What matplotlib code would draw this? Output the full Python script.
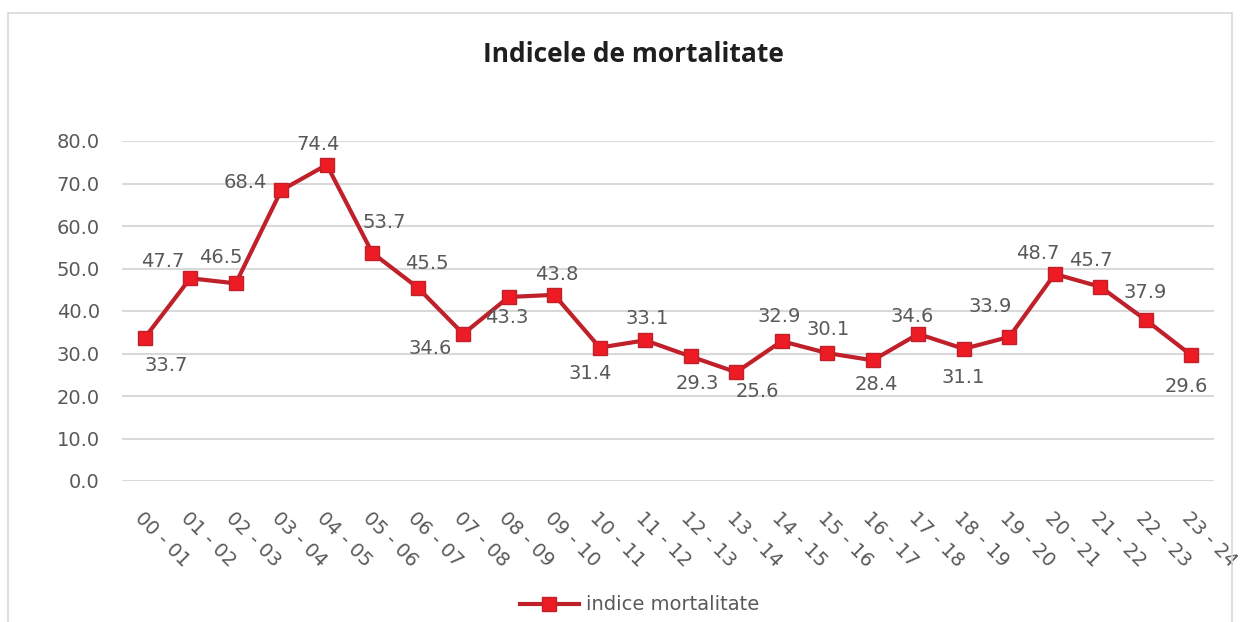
import matplotlib
matplotlib.use("Agg")
import matplotlib.pyplot as plt
from matplotlib.patches import Rectangle
from matplotlib.lines import Line2D

categories = ["00 - 01", "01 - 02", "02 - 03", "03 - 04", "04 - 05", "05 - 06",
              "06 - 07", "07 - 08", "08 - 09", "09 - 10", "10 - 11", "11 - 12",
              "12 - 13", "13 - 14", "14 - 15", "15 - 16", "16 - 17", "17 - 18",
              "18 - 19", "19 - 20", "20 - 21", "21 - 22", "22 - 23", "23 - 24"]
values = [33.7, 47.7, 46.5, 68.4, 74.4, 53.7, 45.5, 34.6, 43.3, 43.8, 31.4, 33.1,
          29.3, 25.6, 32.9, 30.1, 28.4, 34.6, 31.1, 33.9, 48.7, 45.7, 37.9, 29.6]
series_name = "indice mortalitate"
title = "Indicele de mortalitate"
yticks = [0, 10, 20, 30, 40, 50, 60, 70, 80]

# label offsets in pixels (dx, dy with dy positive downward) - styling only
label_offsets_px = [(21, 28), (-28, -17), (-15, -26), (-36, -8), (-9, -20), (12, -30),
                    (9, -24), (-33, 15), (-2, 21), (3, -20), (-10, 26), (2, -22),
                    (7, 27), (21, 19), (-3, -25), (1, -24), (4, 24), (-6, -17),
                    (-1, 29), (-19, -30), (-17, -21), (-9, -26), (-1, -27), (-5, 31)]

W, H = 1246, 622
fig = plt.figure(figsize=(W / 100, H / 100), dpi=100)
fig.patch.set_facecolor("white")

# outer light border
fig.add_artist(Rectangle((8 / W, -0.02), (1232 - 8) / W, 1 - 13 / H + 0.02,
                         transform=fig.transFigure, fill=False,
                         edgecolor="#d9d9d9", linewidth=1.2))

ax = fig.add_axes([122 / W, 1 - 481 / H, (1214 - 122) / W, (481 - 141) / H])
x = list(range(len(categories)))
ax.set_xlim(-0.5, len(categories) - 0.5)
ax.set_ylim(0, 80)

for yv in yticks:
    ax.axhline(yv, color="#d9d9d9", linewidth=1.5, zorder=0)

ax.plot(x, values, color="#c0202a", linewidth=3.0, marker="s", markersize=10,
        markerfacecolor="#ed1c24", markeredgecolor="#c0202a", markeredgewidth=1.0,
        clip_on=False, zorder=3)

fs = 14
for xi, v, (dx, dy) in zip(x, values, label_offsets_px):
    ax.annotate(f"{v:.1f}", (xi, v), xytext=(dx * 0.72, -dy * 0.72),
                textcoords="offset points", ha="center", va="center",
                fontsize=fs, color="#595959", family="DejaVu Sans", zorder=4)

for s in ax.spines.values():
    s.set_visible(False)
ax.tick_params(length=0)
ax.set_yticks(yticks)
ax.set_yticklabels([f"{t:.1f}" for t in yticks], fontsize=fs, color="#595959")
ax.tick_params(axis="y", pad=16)
ax.set_xticks(x)
ax.set_xticklabels(categories, rotation=-45, ha="left", va="top",
                   rotation_mode="anchor", fontsize=fs, color="#595959")
ax.tick_params(axis="x", pad=20)

fig.text(633 / W, 1 - 55 / H, title, ha="center", va="center",
         fontsize=19, fontweight="bold", family="Open Sans", color="#1f1f1f")

handle = Line2D([], [], color="#c0202a", linewidth=3.0, marker="s", markersize=10,
                markerfacecolor="#ed1c24", markeredgecolor="#c0202a")
fig.legend([handle], [series_name], loc="center", bbox_to_anchor=(640 / W, 1 - 605 / H),
           frameon=False, fontsize=fs, labelcolor="#595959", handlelength=3.0,
           handletextpad=0.4)

fig.savefig("out.png", dpi=100)
